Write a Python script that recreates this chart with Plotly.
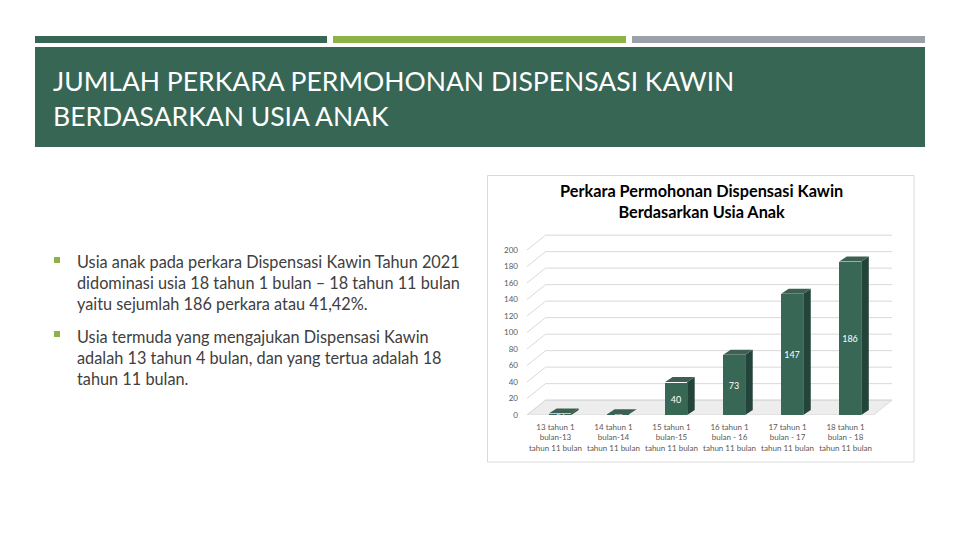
import plotly.graph_objects as go

# data
kategori = [
    "13 tahun 1<br>bulan-13<br>tahun 11 bulan",
    "14 tahun 1<br>bulan-14<br>tahun 11 bulan",
    "15 tahun 1<br>bulan-15<br>tahun 11 bulan",
    "16 tahun 1<br>bulan - 16<br>tahun 11 bulan",
    "17 tahun 1<br>bulan - 17<br>tahun 11 bulan",
    "18 tahun 1<br>bulan - 18<br>tahun 11 bulan",
]
jumlah = [2, 1, 40, 73, 147, 186]
y_ticks = list(range(0, 201, 20))

judul_slide = ["JUMLAH PERKARA PERMOHONAN DISPENSASI KAWIN", "BERDASARKAN USIA ANAK"]
judul_chart = "Perkara Permohonan Dispensasi Kawin<br>Berdasarkan Usia Anak"
poin = [
    ["Usia anak pada perkara Dispensasi Kawin Tahun 2021",
     "didominasi usia 18 tahun 1 bulan \u2013 18 tahun 11 bulan",
     "yaitu sejumlah 186 perkara atau 41,42%."],
    ["Usia termuda yang mengajukan Dispensasi Kawin",
     "adalah 13 tahun 4 bulan, dan yang tertua adalah 18",
     "tahun 11 bulan."],
]

W, H = 960, 540
OFF = 8  # page body margin
FONT = "Lato"
HIJAU = "#376654"


def px(x):
    return (x - OFF) / W


def py(y):
    return 1 - (y - OFF) / H


x_idx = list(range(len(jumlah)))
bar_w = 0.38
dx, dy = 0.13, 6          # bar depth (data units)
fx, fy = 0.32, 18         # floor / back wall depth
x_lo, x_hi = -0.57, 5.72

fig = go.Figure()

# front faces
fig.add_trace(go.Bar(
    x=x_idx, y=jumlah, width=bar_w,
    marker=dict(color="#386755", line=dict(width=0)),
    text=[str(v) for v in jumlah], textposition="inside",
    insidetextanchor="middle",
    textfont=dict(family=FONT, size=9, color="white"),
    showlegend=False, hoverinfo="skip",
))

# side and top faces, computed from the values
for xi, v in zip(x_idx, jumlah):
    r = xi + bar_w / 2
    l = xi - bar_w / 2
    fig.add_trace(go.Scatter(
        x=[r, r + dx, r + dx, r, r], y=[0, dy, v + dy, v, 0],
        fill="toself", fillcolor="#23443a", mode="lines",
        line=dict(width=0), showlegend=False, hoverinfo="skip"))
    fig.add_trace(go.Scatter(
        x=[l, l + dx, r + dx, r, l], y=[v, v + dy, v + dy, v, v],
        fill="toself", fillcolor="#3e5f52", mode="lines",
        line=dict(width=0), showlegend=False, hoverinfo="skip"))

shapes = []
# slide decoration
shapes += [
    dict(type="rect", xref="paper", yref="paper", x0=px(35), x1=px(327), y0=py(43), y1=py(36),
         fillcolor=HIJAU, line=dict(width=0)),
    dict(type="rect", xref="paper", yref="paper", x0=px(333), x1=px(626), y0=py(43), y1=py(36),
         fillcolor="#8db346", line=dict(width=0)),
    dict(type="rect", xref="paper", yref="paper", x0=px(632), x1=px(925), y0=py(43), y1=py(36),
         fillcolor="#9ca0a8", line=dict(width=0)),
    dict(type="rect", xref="paper", yref="paper", x0=px(35), x1=px(925), y0=py(147), y1=py(47),
         fillcolor=HIJAU, line=dict(width=0)),
    dict(type="rect", xref="paper", yref="paper", x0=px(487.5), x1=px(914), y0=py(462), y1=py(175.5),
         fillcolor="rgba(0,0,0,0)", line=dict(color="#d9d9d9", width=1), layer="below"),
]
for yb in [260, 334]:
    shapes.append(dict(type="rect", xref="paper", yref="paper",
                       x0=px(54), x1=px(60), y0=py(yb + 3), y1=py(yb - 3),
                       fillcolor="#8db346", line=dict(width=0)))

# floor
shapes.append(dict(type="path", xref="x", yref="y", layer="below",
                   path=f"M {x_lo},0 L {x_hi - fx},0 L {x_hi},{fy} L {x_lo + fx},{fy} Z",
                   fillcolor="#ededed", line=dict(color="#d9d9d9", width=1)))
# back wall grid and left side lines
for t in y_ticks:
    shapes.append(dict(type="line", xref="x", yref="y", layer="below",
                       x0=x_lo + fx, x1=x_hi, y0=t + fy, y1=t + fy,
                       line=dict(color="#d9d9d9", width=1)))
    shapes.append(dict(type="line", xref="x", yref="y", layer="below",
                       x0=x_lo, x1=x_lo + fx, y0=t, y1=t + fy,
                       line=dict(color="#d9d9d9", width=1)))

annotations = []
for i, t in enumerate(judul_slide):
    annotations.append(dict(x=px(51), y=py(81 + i * 35), xref="paper", yref="paper",
                            text=t, showarrow=False, xanchor="left", yanchor="middle",
                            font=dict(family=FONT, size=26.5, color="white")))
for j, blok in enumerate(poin):
    for i, t in enumerate(blok):
        annotations.append(dict(x=px(75), y=py(261 + j * 75 + i * 21), xref="paper", yref="paper",
                                text=t, showarrow=False, xanchor="left", yanchor="middle",
                                font=dict(family=FONT, size=16.3, color="#404040")))
annotations.append(dict(x=px(701), y=py(201), xref="paper", yref="paper",
                        text="<b>" + judul_chart + "</b>", showarrow=False,
                        xanchor="center", yanchor="middle",
                        font=dict(family=FONT, size=16.3, color="black")))

fig.update_layout(
    width=W, height=H,
    margin=dict(l=0, r=0, t=0, b=0),
    paper_bgcolor="white", plot_bgcolor="rgba(0,0,0,0)",
    shapes=shapes, annotations=annotations,
    bargap=0,
    uniformtext=dict(minsize=9, mode="show"),
    xaxis=dict(domain=[px(527), px(892)], range=[x_lo, x_hi],
               tickvals=[i - 0.08 for i in x_idx], ticktext=kategori,
               showgrid=False, zeroline=False, showline=False, ticks="",
               ticklabelstandoff=6,
               tickfont=dict(family=FONT, size=8, color="#595959"),
               automargin=False, fixedrange=True),
    yaxis=dict(domain=[py(415), py(233.5)], range=[0, 220],
               tickvals=y_ticks, showgrid=False, zeroline=False, showline=False, ticks="",
               ticklabelstandoff=8,
               tickfont=dict(family=FONT, size=8, color="#595959"),
               automargin=False, fixedrange=True),
)

fig.write_html("out.html")
